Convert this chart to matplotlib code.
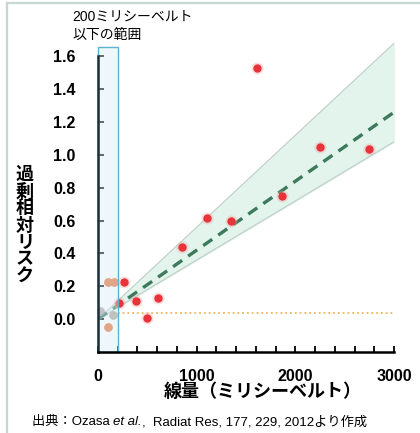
import matplotlib
matplotlib.use('Agg')
import matplotlib.pyplot as plt
from matplotlib.patches import Rectangle
from matplotlib.lines import Line2D
from matplotlib.ticker import MultipleLocator, FuncFormatter

plt.rcParams['font.family'] = ['Liberation Sans', 'Noto Sans CJK JP', 'DejaVu Sans']

# data
dose_red = [216, 262, 385, 493, 611, 848, 1101, 1344, 1607, 1861, 2249, 2746]
err_red = [0.10, 0.228, 0.11, 0.01, 0.126, 0.44, 0.614, 0.598, 1.53, 0.75, 1.05, 1.037]
dose_low = [101, 162, 101]
err_low = [0.228, 0.228, -0.047]
dose_grey = [25, 150]
err_grey = [0.05, 0.025]

fit_dose = [0, 3000]
fit_err = [0, 1.26]
ci_lower = [0, 1.08]
ci_upper = [0, 1.68]
ref_dose = [150, 3000]
ref_err = [0.035, 0.035]
low_range = [0, 200]

W, H = 420, 433
fig = plt.figure(figsize=(W / 100, H / 100), dpi=100)
ax = fig.add_axes([98 / W, 1 - 352 / H, (394 - 98) / W, (352 - 40) / H])
ax.set_xlim(0, 3000)
ax.set_ylim(-0.2, 1.7)

# confidence band and fit
ax.fill_between(fit_dose, ci_lower, ci_upper, color='#e2f4ec', zorder=1)
ax.plot(fit_dose, ci_lower, color='#bfcdc7', lw=0.8, zorder=2)
ax.plot(fit_dose, ci_upper, color='#bfcdc7', lw=0.8, zorder=2)
ax.plot(fit_dose, fit_err, color='#3d7a5c', lw=2.4, dashes=(3.3, 2.2), zorder=4)
ax.plot(ref_dose, ref_err, color='#f2b45a', lw=1.3, ls=':', zorder=3)

# points
ax.scatter(dose_grey, err_grey, s=40, color='#a08f8f', alpha=0.8, lw=0, zorder=5)
ax.scatter(dose_low, err_low, s=40, color='#e8783e', lw=0, zorder=5)
ax.scatter(dose_red, err_red, s=75, color='#f4a0a0', alpha=0.35, lw=0, zorder=5)
ax.scatter(dose_red, err_red, s=36, color='#e8333a', lw=0, zorder=6)

# 200 mSv range box
ax.add_patch(Rectangle((low_range[0], -0.2), low_range[1] - low_range[0], 1.855,
                       facecolor='#d8ecf8', alpha=0.4, edgecolor='none', zorder=7, clip_on=False))
ax.add_patch(Rectangle((low_range[0], -0.2), low_range[1] - low_range[0], 1.855,
                       facecolor='none', edgecolor='#5ab3cc', lw=1.0, zorder=8, clip_on=False))

for s in ['top', 'right']:
    ax.spines[s].set_visible(False)
ax.spines['left'].set_bounds(-0.2, 1.6)
ax.spines['left'].set_linewidth(1.8)
ax.spines['left'].set_color('#17303a')
ax.spines['left'].set_zorder(9)
ax.spines['bottom'].set_linewidth(1.8)
ax.spines['bottom'].set_zorder(9)

ax.set_yticks([0, 0.2, 0.4, 0.6, 0.8, 1.0, 1.2, 1.4, 1.6])
ax.yaxis.set_major_formatter(FuncFormatter(lambda v, p: f'{v:.1f}'))
ax.xaxis.set_major_locator(MultipleLocator(1000))
ax.xaxis.set_minor_locator(MultipleLocator(200))
ax.tick_params(axis='y', direction='in', length=4, width=1.3, pad=16, labelsize=11.5)
ax.tick_params(axis='x', which='both', direction='in', length=4, width=1.3, pad=12, labelsize=11.5)
for lab in ax.get_xticklabels() + ax.get_yticklabels():
    lab.set_fontweight('bold')

# texts
fig.text(72 / W, 1 - 17 / H, '200ミリシーベルト', fontsize=10, va='center', ha='left')
fig.text(72 / W, 1 - 35 / H, '以下の範囲', fontsize=10, va='center', ha='left')
fig.text(25 / W, 1 - 226 / H, '\n'.join('過剰相対リスク'), fontsize=13, fontweight='bold',
         ha='center', va='center', linespacing=0.98)
fig.text(263 / W, 1 - 392 / H, '線量（ミリシーベルト）', fontsize=13, fontweight='bold',
         ha='center', va='center')

# source line with italic "et al."
fig.canvas.draw()
r = fig.canvas.get_renderer()
x0 = 32 / W
y0 = 1 - 422 / H
parts = [('出典：Ozasa ', 'normal'), ('et al.', 'italic'), (',  Radiat Res, 177, 229, 2012より作成', 'normal')]
for txt, style in parts:
    t = fig.text(x0, y0, txt, fontsize=9.5, style=style, va='center', ha='left')
    bb = t.get_window_extent(renderer=r)
    x0 += bb.width / W

# outer frame (top and left edges)
fig.add_artist(Line2D([7 / W, 1], [1 - 3 / H, 1 - 3 / H], color='#c7d6d2', lw=1.6))
fig.add_artist(Line2D([7 / W, 7 / W], [0, 1 - 3 / H], color='#c7d6d2', lw=1.6))

fig.savefig('out.png', dpi=100)
